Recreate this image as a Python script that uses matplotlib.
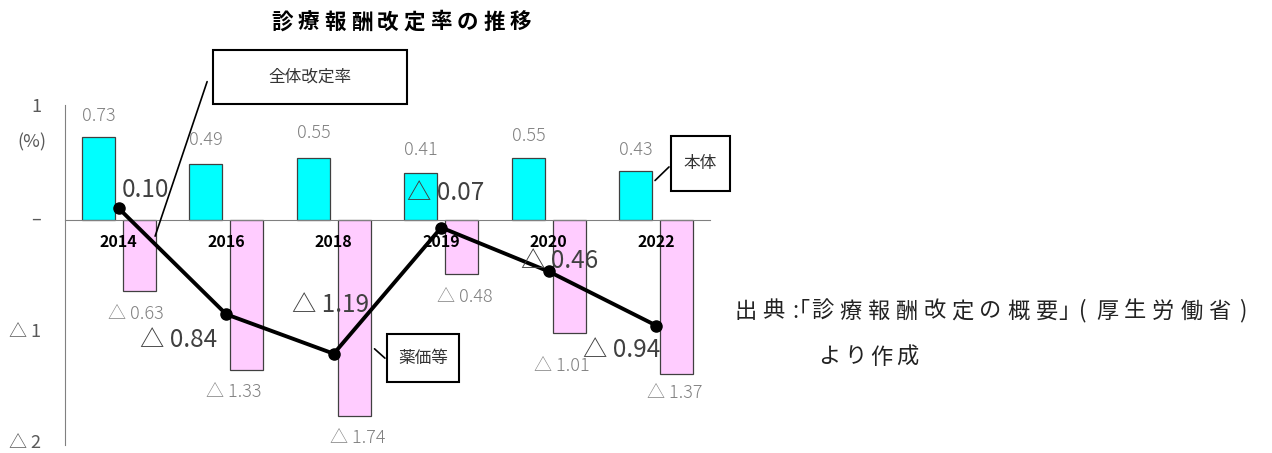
import numpy as np
import matplotlib
matplotlib.use("Agg")
import matplotlib.pyplot as plt
from matplotlib.patches import Rectangle

plt.rcParams['font.family'] = ['Noto Sans CJK JP', 'DejaVu Sans']

# data (%)
years = ['2014', '2016', '2018', '2019', '2020', '2022']
honbai = [0.73, 0.49, 0.55, 0.41, 0.55, 0.43]      # 本体
yakka = [-0.63, -1.33, -1.74, -0.48, -1.01, -1.37]  # 薬価等
zentai = [0.10, -0.84, -1.19, -0.07, -0.46, -0.94]  # 全体改定率
y_ticks = [1, 0, -1, -2]
y_ticklabels = ['1', '–', '△ 1', '△ 2']

# label offsets (pixels), placed by hand like in the original
honbai_offsets = [(0, 21), (0, 24), (0, 25), (0, 23), (0, 22), (0, 21)]
yakka_offsets = [(-3, -23), (-13, -22), (4, -22), (3, -23), (-7, -33), (-2, -19)]
zentai_offsets = [(27, 18), (-48, -26), (-3, 49), (4, 35), (11, 10), (-35, -24)]

W, H = 1272, 453
fig = plt.figure(figsize=(W / 100, H / 100), dpi=100)


def fx(px):
    return px / W


def fy(py):
    return 1 - py / H


def fmt(v):
    return f'△ {abs(v):.2f}' if v < 0 else f'{v:.2f}'


def spaced(text, x0, y, step, **kw):
    # draw characters one by one with a fixed advance (pixels)
    for i, ch in enumerate(text):
        fig.text(fx(x0 + i * step), fy(y), ch, ha='center', va='center', **kw)


ax = fig.add_axes([fx(65), fy(445), fx(710) - fx(65), fy(104.7) - fy(445)])

x = np.arange(len(years))
bw = 0.305
off = 0.19
grey = '#808080'

ax.bar(x - off, honbai, bw, color='#00FFFF', edgecolor='#404040', linewidth=0.9, zorder=1)
ax.bar(x + off, yakka, bw, color='#FFCCFF', edgecolor='#404040', linewidth=0.9, zorder=1)
ax.plot(x, zentai, color='black', lw=2.8, marker='o', ms=8, zorder=4)

for xi, v, o in zip(x, honbai, honbai_offsets):
    ax.annotate(fmt(v), (xi - off, v), xytext=o, textcoords='offset pixels',
                ha='center', va='center', fontsize=13, color=grey, fontweight='light')
for xi, v, o in zip(x, yakka, yakka_offsets):
    ax.annotate(fmt(v), (xi + off, v), xytext=o, textcoords='offset pixels',
                ha='center', va='center', fontsize=13, color=grey, fontweight='light')
for xi, v, o in zip(x, zentai, zentai_offsets):
    ax.annotate(fmt(v), (xi, v), xytext=o, textcoords='offset pixels',
                ha='center', va='center', fontsize=17.5, color='#404040', zorder=5)

ax.set_xlim(-0.5, 5.5)
ax.set_ylim(-2, 1.02)
ax.spines[['top', 'right']].set_visible(False)
ax.spines['left'].set_color(grey)
ax.spines['bottom'].set_position(('data', 0))
ax.spines['bottom'].set_color(grey)
ax.set_xticks(x)
ax.set_xticklabels(years, fontsize=11.5, fontweight='bold')
ax.tick_params(axis='x', length=0, pad=10)
ax.set_yticks([])
ax.patch.set_visible(False)

# y labels drawn by hand so the bottom one stays inside the canvas
for v, lab in zip(y_ticks, y_ticklabels):
    ax.annotate(lab, (0, max(v, -1.985)), xycoords=('figure fraction', 'data'),
                xytext=(41, 0), textcoords='offset pixels', ha='right', va='center',
                fontsize=13, color='#595959', annotation_clip=False)

fig.text(fx(32), fy(142), '(%)', ha='center', va='center', fontsize=13, color='#595959')

# callout boxes: label, box (px), target (data), leader start (px)
boxes = [('全体改定率', 213, 50, 407, 104, (0.33, -0.17), (208, 79)),
         ('本体', 671, 136, 730, 191, (4.97, 0.33), (671, 165)),
         ('薬価等', 387, 334, 459, 382, (2.36, -1.13), (387, 360))]
for label, x0, y0, x1, y1, target, start in boxes:
    fig.add_artist(Rectangle((fx(x0), fy(y1)), fx(x1) - fx(x0), fy(y0) - fy(y1),
                             transform=fig.transFigure, facecolor='white',
                             edgecolor='black', linewidth=1.5, zorder=6))
    fig.text(fx((x0 + x1) / 2), fy((y0 + y1) / 2), label, ha='center', va='center',
             fontsize=12, color='#333333', zorder=7)
    ax.annotate('', xy=target, xycoords='data',
                xytext=(fx(start[0]), fy(start[1])), textcoords='figure fraction',
                arrowprops=dict(arrowstyle='-', color='black', lw=1.2), zorder=6)

# title with spaced characters
spaced('診療報酬改定率の推移', 282, 22, 26.5, fontsize=15.5, fontweight='bold')

# source note
src_kw = dict(fontsize=16, color='#222222')
spaced('出典', 746, 311, 27.5, **src_kw)
fig.text(fx(795), fy(311), ':', ha='center', va='center', **src_kw)
fig.text(fx(804), fy(311), '｢', ha='center', va='center', **src_kw)
spaced('診療報酬改定の概要', 822, 311, 28.1, **src_kw)
fig.text(fx(1064), fy(311), '｣', ha='center', va='center', **src_kw)
fig.text(fx(1083), fy(311), '(', ha='center', va='center', **src_kw)
spaced('厚生労働省', 1107, 311, 28.1, **src_kw)
fig.text(fx(1243), fy(311), ')', ha='center', va='center', **src_kw)
spaced('より作成', 829, 357, 26, **src_kw)

fig.savefig('out.png', dpi=100)
